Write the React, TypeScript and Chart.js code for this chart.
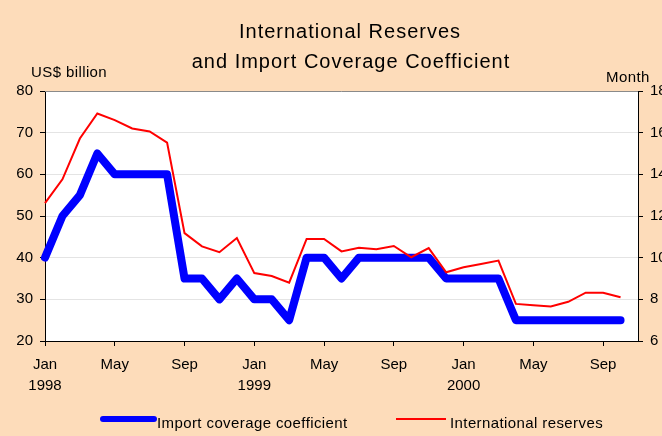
import React, { useEffect, useRef } from "react";
import { Chart, registerables } from "chart.js";

Chart.register(...registerables);

// ---- data ----
const months = [
  "Jan 1998", "Feb 1998", "Mar 1998", "Apr 1998", "May 1998", "Jun 1998",
  "Jul 1998", "Aug 1998", "Sep 1998", "Oct 1998", "Nov 1998", "Dec 1998",
  "Jan 1999", "Feb 1999", "Mar 1999", "Apr 1999", "May 1999", "Jun 1999",
  "Jul 1999", "Aug 1999", "Sep 1999", "Oct 1999", "Nov 1999", "Dec 1999",
  "Jan 2000", "Feb 2000", "Mar 2000", "Apr 2000", "May 2000", "Jun 2000",
  "Jul 2000", "Aug 2000", "Sep 2000", "Oct 2000",
];

// International reserves, US$ billion (left axis)
const reserves = [
  53.1, 58.8, 68.6, 74.6, 73.0, 71.0, 70.3, 67.6, 45.9, 42.7, 41.3, 44.7,
  36.3, 35.6, 34.0, 44.5, 44.5, 41.5, 42.4, 42.0, 42.8, 40.1, 42.3, 36.5,
  37.7, 38.5, 39.3, 28.9, 28.6, 28.3, 29.4, 31.6, 31.6, 30.5,
];

// Import coverage coefficient, months (right axis)
const coverage = [
  10, 12, 13, 15, 14, 14, 14, 14, 9, 9, 8, 9,
  8, 8, 7, 10, 10, 9, 10, 10, 10, 10, 10, 9,
  9, 9, 9, 7, 7, 7, 7, 7, 7, 7,
];

const xTickIndex = [0, 4, 8, 12, 16, 20, 24, 28, 32];
const xTickLabels = [
  ["Jan", "1998"], ["May"], ["Sep"], ["Jan", "1999"], ["May"], ["Sep"],
  ["Jan", "2000"], ["May"], ["Sep"],
];

const titleLines = ["International Reserves", "and Import Coverage Coefficient"];
const leftTitle = "US$ billion";
const rightTitle = "Month";
const legendLabels = ["Import coverage coefficient", "International reserves"];

const FONT = "'Liberation Sans', Arial, Helvetica, sans-serif";
const BG = "#FDDCBA";

const decorPlugin = {
  id: "decor",
  beforeDraw(chart: any) {
    const { ctx, chartArea } = chart;
    ctx.save();
    ctx.fillStyle = BG;
    ctx.fillRect(0, 0, chart.width, chart.height);
    ctx.fillStyle = "#ffffff";
    ctx.fillRect(chartArea.left, chartArea.top, chartArea.right - chartArea.left, chartArea.bottom - chartArea.top);
    ctx.restore();
  },
  afterDraw(chart: any) {
    const { ctx, chartArea } = chart;
    ctx.save();
    // top border
    ctx.strokeStyle = "#8a8a8a";
    ctx.lineWidth = 1;
    ctx.beginPath();
    ctx.moveTo(chartArea.left, chartArea.top + 0.5);
    ctx.lineTo(chartArea.right, chartArea.top + 0.5);
    ctx.stroke();

    // title
    ctx.fillStyle = "#000";
    ctx.textAlign = "center";
    ctx.textBaseline = "alphabetic";
    ctx.font = `20px ${FONT}`;
    (ctx as any).letterSpacing = "1px";
    ctx.fillText(titleLines[0], 350, 38);
    ctx.fillText(titleLines[1], 351, 68);

    // axis titles
    ctx.font = `15px ${FONT}`;
    (ctx as any).letterSpacing = "0.4px";
    ctx.textAlign = "left";
    ctx.fillText(leftTitle, 31, 77);
    ctx.fillText(rightTitle, 606, 82);

    // legend
    ctx.lineCap = "round";
    ctx.strokeStyle = "#0000ff";
    ctx.lineWidth = 6;
    ctx.beginPath();
    ctx.moveTo(103, 419);
    ctx.lineTo(154, 419);
    ctx.stroke();
    ctx.lineCap = "butt";
    ctx.strokeStyle = "#ff0000";
    ctx.lineWidth = 2;
    ctx.beginPath();
    ctx.moveTo(396, 419);
    ctx.lineTo(446, 419);
    ctx.stroke();
    ctx.fillStyle = "#000";
    ctx.fillText(legendLabels[0], 157, 428);
    ctx.fillText(legendLabels[1], 450, 428);
    ctx.restore();
  },
};

export default function App() {
  const ref = useRef<HTMLCanvasElement>(null);

  useEffect(() => {
    if (!ref.current) return;
    const chart = new Chart(ref.current, {
      type: "line",
      data: {
        labels: months,
        datasets: [
          {
            label: legendLabels[1],
            data: reserves.map((v, i) => ({ x: i, y: v })),
            borderColor: "#ff0000",
            borderWidth: 2,
            pointRadius: 0,
            tension: 0,
            yAxisID: "y",
            order: 0,
            clip: false as any,
          },
          {
            label: legendLabels[0],
            data: coverage.map((v, i) => ({ x: i, y: v })),
            borderColor: "#0000ff",
            borderWidth: 8,
            borderCapStyle: "round",
            borderJoinStyle: "round",
            pointRadius: 0,
            tension: 0,
            yAxisID: "y1",
            order: 1,
            clip: false as any,
          },
        ],
      },
      options: {
        animation: false,
        responsive: false,
        devicePixelRatio: 1,
        layout: { padding: { top: 91, left: 0, right: 0, bottom: 0 } },
        plugins: {
          legend: { display: false },
          title: { display: false },
          tooltip: { enabled: false },
        },
        scales: {
          x: {
            type: "linear",
            min: 0,
            max: months.length,
            afterBuildTicks: (scale: any) => {
              scale.ticks = xTickIndex.map((v) => ({ value: v }));
            },
            afterFit: (scale: any) => {
              scale.height = 95;
            },
            ticks: {
              autoSkip: false,
              maxRotation: 0,
              padding: 8,
              color: "#000",
              font: { family: FONT, size: 15, lineHeight: 1.4 },
              callback: (v: any) => {
                const k = xTickIndex.indexOf(Number(v));
                return k >= 0 ? xTickLabels[k] : "";
              },
            },
            grid: {
              drawOnChartArea: false,
              drawTicks: true,
              tickLength: 5,
              tickColor: "#000",
            },
            border: { display: true, color: "#000", width: 1 },
          },
          y: {
            type: "linear",
            position: "left",
            min: 20,
            max: 80,
            afterFit: (scale: any) => {
              scale.width = 45;
            },
            ticks: {
              stepSize: 10,
              padding: 7,
              color: "#000",
              font: { family: FONT, size: 15 },
            },
            grid: {
              color: "#e4e4e4",
              lineWidth: 1,
              tickLength: 5,
              tickColor: "#000",
            },
            border: { display: true, color: "#000", width: 1 },
          },
          y1: {
            type: "linear",
            position: "right",
            min: 6,
            max: 18,
            afterFit: (scale: any) => {
              scale.width = 24;
            },
            ticks: {
              stepSize: 2,
              padding: 7,
              color: "#000",
              font: { family: FONT, size: 15 },
            },
            grid: {
              drawOnChartArea: false,
              tickLength: 5,
              tickColor: "#000",
            },
            border: { display: true, color: "#000", width: 1 },
          },
        },
      },
      plugins: [decorPlugin],
    });
    return () => chart.destroy();
  }, []);

  return (
    <div style={{ position: "fixed", left: 0, top: 0, width: 662, height: 436, background: BG }}>
      <canvas ref={ref} width={662} height={436} style={{ width: 662, height: 436, display: "block" }} />
    </div>
  );
}
